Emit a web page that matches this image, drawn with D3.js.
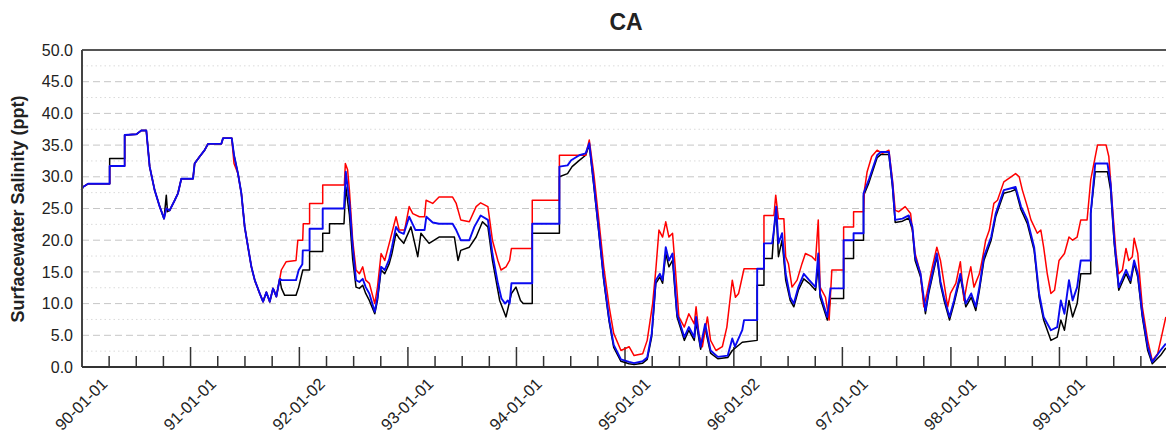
<!DOCTYPE html>
<html><head><meta charset="utf-8">
<script src="https://cdn.jsdelivr.net/npm/d3@7"></script>
<style>
body{margin:0;background:#fff}
svg{display:block}
text{font-family:"Liberation Sans",Arial,sans-serif;fill:#222}
</style>
</head><body>
<svg id="chart" width="1166" height="440"></svg>
<script>
// ---------- data ----------
const chartTitle = "CA";
const yAxisTitle = "Surfacewater Salinity (ppt)";
const yTickValues = [0, 5, 10, 15, 20, 25, 30, 35, 40, 45, 50];
const xTickLabels = ["90-01-01","91-01-01","92-01-02","93-01-01","94-01-01","95-01-01","96-01-02","97-01-01","98-01-01","99-01-01"];
const startDate = "1990-01-01";
const endDate = "2000-01-01";

// [months since 1990-01-01, salinity ppt]
const blackSeries = [[0,27.9],[0.17,28.4],[0.72,28.9],[3.11,28.9],[3.11,32.9],[4.77,32.9],[4.77,36.6],[6.06,36.7],[6.61,37.3],[7.16,37.3],[7.53,31.6],[8.08,27.9],[8.64,25.3],[9.12,23.4],[9.37,27.1],[9.5,24.5],[9.74,24.7],[10.3,26.3],[10.66,27.4],[11.03,29.7],[12.32,29.7],[12.5,32.1],[13.06,33.2],[13.6,34.2],[13.98,35.2],[15.45,35.2],[15.64,36.1],[16.6,36.1],[16.85,33.4],[17.29,30.5],[17.66,27.4],[18.03,22.1],[18.4,18.9],[18.77,15.8],[19.14,13.7],[19.69,11.6],[20.06,10.3],[20.42,11.8],[20.8,10.3],[21.16,12.4],[21.53,11.1],[21.9,13.9],[22.1,12.4],[22.45,11.3],[23.7,11.3],[24.0,12.6],[24.45,15.3],[25.2,15.3],[25.2,18.2],[26.65,18.2],[26.65,21.1],[27.4,21.1],[27.4,22.6],[29.0,22.6],[29.2,28.4],[29.6,24],[29.96,17],[30.33,12.6],[30.7,12.4],[31.07,12.9],[31.4,11.6],[31.8,10.5],[32.4,8.4],[32.7,10.5],[33.1,15.3],[33.5,14.7],[34.0,16.3],[34.3,17.9],[34.75,21.1],[35.1,20.3],[35.6,19.5],[36.4,22.1],[37.15,17.4],[37.5,21.1],[38.4,19.5],[39.5,20.5],[41.2,20.5],[41.6,16.8],[41.9,18.4],[42.85,18.9],[43.6,20.5],[44.3,22.9],[44.9,22.1],[45.4,16.8],[46.2,10.5],[46.9,7.9],[47.5,11.6],[48.0,12.6],[48.5,10.5],[48.8,10],[49.8,10],[49.8,21.1],[52.8,21.1],[52.8,30],[53.7,30.5],[54.2,31.6],[55.0,32.6],[55.7,33.4],[56.1,35],[56.6,28.6],[57.2,20.6],[57.7,13.6],[58.3,7.1],[58.8,3.1],[59.6,0.9],[60.5,0.5],[61.05,0.4],[62.0,0.6],[62.5,1.2],[63.0,4.8],[63.45,13.2],[63.9,14.2],[64.2,13.2],[64.55,17.9],[64.9,15.8],[65.3,16.8],[65.8,7.9],[66.6,4.2],[67.1,5.8],[67.7,4.2],[67.9,7.1],[68.4,2.8],[68.9,6.1],[69.5,2.2],[70.3,1.3],[71.4,1.5],[71.9,2.6],[73.0,3.9],[74.65,4.2],[74.65,12.9],[75.4,12.9],[75.4,17.1],[76.3,17.1],[76.5,21.6],[76.75,24.7],[77.0,17.4],[77.4,20],[77.8,13.7],[78.3,10.5],[78.7,9.5],[79.2,12.1],[79.8,13.9],[80.4,13.2],[81.1,12.1],[81.4,16],[81.6,11],[82.4,7.4],[82.75,10.8],[84.2,10.8],[84.2,17.1],[85.3,17.1],[85.3,20.0],[86.4,20.0],[86.4,27.0],[86.98,29.0],[87.9,33.0],[88.3,33.5],[89.2,33.5],[89.6,28.4],[89.9,22.8],[90.7,23.0],[91.4,23.5],[91.8,21.6],[92.1,16.8],[92.7,14.2],[93.24,8.4],[93.6,11.6],[94.0,14.2],[94.5,17.4],[94.9,13.0],[95.3,10.5],[95.9,7.4],[96.4,10.0],[97.1,14.2],[97.7,9.5],[98.3,11.0],[98.8,8.9],[99.2,12.1],[99.7,16.8],[100.5,20.0],[101.0,23.7],[101.9,27.4],[102.7,27.7],[103.2,28.0],[103.8,24.8],[104.5,22.6],[105.25,18.4],[105.8,11],[106.3,7.4],[107.1,4.2],[107.8,4.7],[108.2,7.4],[108.6,5.8],[109.1,10.5],[109.5,7.9],[110.0,10.0],[110.4,14.7],[111.5,14.7],[111.5,24.2],[112.0,30.8],[113.35,30.8],[113.7,27.9],[114.1,19.5],[114.6,12.1],[115.4,14.7],[115.9,13.2],[116.3,16.3],[116.7,14.2],[117.2,7.9],[117.8,2.6],[118.3,0.5],[119.2,1.8],[119.8,3.0]];

const redSeries = [[0,27.9],[0.17,28.4],[0.72,28.9],[3.11,28.9],[3.11,31.7],[4.77,31.7],[4.77,36.6],[6.06,36.7],[6.61,37.3],[7.16,37.3],[7.53,31.6],[8.08,27.9],[8.64,25.3],[9.12,23.4],[9.37,25.0],[9.74,24.7],[10.3,26.3],[10.66,27.4],[11.03,29.7],[12.32,29.7],[12.5,32.1],[13.06,33.2],[13.6,34.2],[13.98,35.2],[15.45,35.2],[15.64,36.1],[16.6,36.1],[16.85,32.1],[17.29,30.5],[17.66,27.4],[18.03,22.1],[18.4,18.9],[18.77,15.8],[19.14,13.7],[19.69,11.6],[20.06,10.3],[20.42,11.8],[20.8,10.3],[21.16,12.4],[21.53,11.1],[21.9,13.9],[22.08,15.3],[22.6,16.6],[23.7,16.8],[23.9,20],[24.44,20],[24.5,22.6],[25.2,22.6],[25.2,25.8],[26.65,25.8],[26.65,28.7],[29.04,28.7],[29.15,32.1],[29.4,31.1],[29.6,27.9],[29.96,20],[30.33,15.3],[30.7,14.7],[31.07,15.8],[31.4,13.7],[31.8,13.2],[32.4,10],[32.7,12.6],[33.1,17.9],[33.5,16.8],[34.0,19.5],[34.75,23.7],[35.1,21.6],[35.7,21.6],[36.2,25.3],[36.6,24.2],[37.33,23.7],[37.9,23.7],[38.07,26.3],[38.8,25.8],[39.5,26.8],[41.0,26.8],[41.4,25.8],[41.9,23.2],[42.85,22.9],[43.6,25.3],[44.1,25.9],[44.9,25.3],[45.4,20],[46.0,16.8],[46.35,15.3],[46.9,15.8],[47.3,16.8],[47.5,18.7],[49.8,18.7],[49.8,26.3],[52.8,26.3],[52.8,33.4],[55.7,33.4],[56.1,35.8],[56.6,30.5],[57.2,22.6],[57.7,15.8],[58.3,9.5],[58.8,5.3],[59.6,2.6],[60.5,3.2],[61.05,1.8],[62.0,2.1],[62.5,4.2],[63.1,10],[63.45,15.3],[63.8,21.6],[64.2,20.5],[64.55,22.9],[64.9,20.5],[65.3,21.1],[65.65,14.7],[66.0,7.9],[66.6,6.3],[67.1,8.4],[67.7,6.8],[67.9,9.5],[68.2,5.3],[68.6,3.2],[69.15,7.9],[69.5,4.2],[70.1,2.6],[70.8,3.2],[71.3,6.3],[71.9,13.7],[72.25,11],[72.6,11.6],[73.2,15.5],[75.4,15.5],[75.4,23.9],[76.5,23.9],[76.7,27.1],[77.0,23.4],[77.6,23.4],[77.8,17.4],[78.1,16.3],[78.5,12.6],[79.06,13.7],[79.6,16.3],[79.98,17.9],[80.7,17.4],[81.1,16.8],[81.4,23.2],[81.6,12.6],[82.2,11],[82.6,7.4],[82.9,15.3],[84.2,15.3],[84.2,22.1],[85.3,22.1],[85.3,24.5],[86.4,24.5],[86.5,27.9],[86.8,30.8],[87.3,33.2],[87.9,34.2],[88.5,33.7],[89.2,34.2],[89.6,29.5],[89.9,24.7],[90.3,24.5],[91.0,25.3],[91.6,24.2],[92.1,17.9],[92.7,14.7],[93.06,9.5],[93.4,11.6],[94.0,15.8],[94.5,18.9],[94.9,16.8],[95.3,13.2],[95.7,9.5],[96.0,11.6],[96.6,13.2],[97.1,16.6],[97.5,10.5],[97.9,13.7],[98.25,15.8],[98.6,12.6],[99.2,14.7],[99.5,16.8],[99.9,20],[100.3,21.6],[100.8,25.8],[101.2,26.3],[101.9,29.2],[102.7,30],[103.2,30.5],[103.6,30],[103.95,27.9],[104.5,25.3],[104.9,23.2],[105.6,21.1],[105.99,21.6],[106.3,18.9],[106.7,14.7],[107.1,11.6],[107.5,12.1],[108.0,16.8],[108.6,17.9],[109.1,20.5],[109.5,20],[110.0,20.5],[110.4,23.2],[111.1,23.2],[111.5,29.5],[112.25,35],[113.2,35],[113.5,33.2],[113.9,25.3],[114.3,17.9],[114.6,14.7],[115.0,15.3],[115.4,18.7],[115.7,16.8],[116.1,17.4],[116.3,20.3],[116.7,17.9],[117.2,9.5],[117.8,4.2],[118.3,1.0],[118.9,2.1],[119.4,5.3],[119.8,7.9]];

const blueSeries = [[0,27.9],[0.17,28.4],[0.72,28.9],[3.11,28.9],[3.11,31.7],[4.77,31.7],[4.77,36.6],[6.06,36.7],[6.61,37.3],[7.16,37.3],[7.53,31.6],[8.08,27.9],[8.64,25.3],[9.12,23.4],[9.37,25.0],[9.74,24.7],[10.3,26.3],[10.66,27.4],[11.03,29.7],[12.32,29.7],[12.5,32.1],[13.06,33.2],[13.6,34.2],[13.98,35.2],[15.45,35.2],[15.64,36.1],[16.6,36.1],[16.85,33.4],[17.29,30.5],[17.66,27.4],[18.03,22.1],[18.4,18.9],[18.77,15.8],[19.14,13.7],[19.69,11.6],[20.06,10.3],[20.42,11.8],[20.8,10.3],[21.16,12.4],[21.53,11.1],[21.9,13.9],[22.1,13.7],[23.7,13.7],[24.0,15.3],[24.4,16.2],[24.45,18.4],[25.2,18.4],[25.2,21.8],[26.65,21.8],[26.65,25],[29.0,25],[29.2,30.8],[29.6,26],[29.96,19],[30.33,13.7],[30.7,13.4],[31.07,13.9],[31.4,12.6],[31.8,11.6],[32.4,8.7],[32.7,11.0],[33.1,15.8],[33.5,15.3],[34.0,17.0],[34.3,18.9],[34.75,22.1],[35.1,21.3],[35.6,21.0],[36.2,23.7],[36.6,22.5],[36.9,21.6],[37.9,21.6],[38.1,23.7],[38.8,22.8],[39.5,22.6],[41.0,22.6],[41.4,21.6],[41.9,20.0],[42.85,20.0],[43.4,22.1],[44.1,23.9],[44.9,23.2],[45.4,17.9],[46.0,13.2],[46.4,10.8],[46.8,10.0],[47.1,10.5],[47.3,10.0],[47.5,13.2],[49.8,13.2],[49.8,22.6],[52.8,22.6],[52.8,31.6],[53.7,31.8],[54.1,32.6],[55.0,33.4],[55.7,33.7],[56.1,35.3],[56.6,29],[57.2,21],[57.7,14],[58.3,7.5],[58.8,3.5],[59.6,1.2],[60.5,0.8],[61.05,0.6],[62.0,0.9],[62.5,1.5],[63.0,5.3],[63.45,13.7],[63.9,14.7],[64.2,13.7],[64.55,18.9],[64.9,16.8],[65.3,17.9],[65.8,8.4],[66.6,4.7],[67.1,6.3],[67.7,4.7],[67.9,7.9],[68.4,3.2],[68.9,6.8],[69.5,2.6],[70.3,1.6],[71.4,1.8],[71.9,4.5],[72.2,3.2],[73.0,5.8],[73.2,7.4],[74.65,7.4],[74.65,15.5],[75.4,15.5],[75.4,19.5],[76.3,19.5],[76.5,21.6],[76.75,25.3],[77.0,19.5],[77.4,21.1],[77.8,14.7],[78.3,11],[78.7,10],[79.2,12.6],[79.8,14.7],[80.4,13.7],[81.1,12.6],[81.4,17.9],[81.6,11.6],[82.4,7.9],[82.75,12.4],[84.2,12.4],[84.2,20.0],[85.3,20.0],[85.3,21.1],[86.4,21.1],[86.4,27.4],[86.98,29.5],[87.9,33.4],[88.3,33.9],[89.2,33.9],[89.6,28.9],[89.9,23.2],[90.7,23.4],[91.4,23.9],[91.8,22.1],[92.1,17.4],[92.7,14.7],[93.24,8.9],[93.6,12.1],[94.0,14.7],[94.5,17.9],[94.9,13.5],[95.3,11],[95.9,7.9],[96.4,10.5],[97.1,14.7],[97.7,10],[98.3,11.6],[98.8,9.5],[99.2,12.6],[99.7,17.4],[100.5,20.5],[101.0,24.2],[101.9,27.9],[102.7,28.2],[103.2,28.4],[103.8,25.3],[104.5,23.2],[105.25,18.9],[105.8,11.6],[106.3,7.9],[107.1,5.8],[107.8,6.3],[108.2,10.5],[108.6,8.4],[109.1,13.7],[109.5,10.5],[110.0,12.6],[110.4,16.8],[111.5,16.8],[111.5,24.2],[112.0,32.1],[113.35,32.1],[113.7,28.9],[114.1,20],[114.6,12.6],[115.4,15.3],[115.9,13.7],[116.3,16.8],[116.7,14.7],[117.2,8.4],[117.8,3.2],[118.3,0.8],[119.2,2.6],[119.8,3.7]];

const seriesColors = {black: "#000000", red: "#ff0000", blue: "#0a0af0"};

// ---------- layout ----------
const W = 1166, H = 440;
const plot = {left: 82, right: 1166, top: 50, bottom: 367};

const svg = d3.select("#chart");
svg.append("rect").attr("width", W).attr("height", H).attr("fill", "#fff");

const parseISO = d3.timeParse("%Y-%m-%d");
const parseTick = d3.timeParse("%y-%m-%d");
const t0 = parseISO(startDate), t1 = parseISO(endDate);
const x = d3.scaleTime().domain([t0, t1]).range([81.5, 1167.5]);
const y = d3.scaleLinear().domain([0, 50]).range([plot.bottom, plot.top]);
const monthMs = 30.4375 * 864e5;
const toDate = m => new Date(t0.getTime() + m * monthMs);

// gridlines every 2.5
const gridVals = d3.range(2.5, 50, 2.5);
svg.append("g").selectAll("line").data(gridVals).join("line")
  .attr("x1", plot.left).attr("x2", plot.right)
  .attr("y1", d => y(d)).attr("y2", d => y(d))
  .attr("stroke", d => d % 5 === 0 ? "#c6c6c6" : "#dadada")
  .attr("stroke-width", 1)
  .attr("stroke-dasharray", d => d % 5 === 0 ? "7,4" : "1.5,3");

// ticks (major + quarterly minor)
const majorDates = xTickLabels.map(parseTick);
const minorDates = [];
majorDates.forEach((d, i) => {
  const next = i < majorDates.length - 1 ? majorDates[i + 1] : null;
  const span = next ? next - d : d - majorDates[i - 1];
  for (let k = 1; k < 4; k++) minorDates.push(new Date(d.getTime() + span * k / 4));
});

const xAxisMinor = d3.axisBottom(x).tickValues(minorDates).tickSize(-11).tickFormat("");
const gMinor = svg.append("g").attr("transform", `translate(0,${plot.bottom})`).call(xAxisMinor);
gMinor.select(".domain").remove();
gMinor.selectAll("line").attr("stroke", "#333").attr("stroke-width", 1.5);

const xAxis = d3.axisBottom(x).tickValues(majorDates).tickSize(-20)
  .tickFormat((d, i) => xTickLabels[i]);
const gx = svg.append("g").attr("transform", `translate(0,${plot.bottom})`).call(xAxis);
gx.select(".domain").remove();
gx.selectAll("line").attr("stroke", "#333").attr("stroke-width", 1.5);
gx.selectAll("text")
  .attr("y", 0).attr("dy", 0)
  .attr("text-anchor", "middle")
  .attr("dominant-baseline", "central")
  .attr("transform", "translate(-1,37) rotate(-45)")
  .style("font-size", "16.5px").style("fill", "#222");

// y axis labels
const yAxis = d3.axisLeft(y).tickValues(yTickValues).tickFormat(d3.format(".1f")).tickSize(0).tickPadding(9);
const gy = svg.append("g").attr("transform", `translate(${plot.left},0)`).call(yAxis);
gy.select(".domain").remove();
gy.selectAll("text").style("font-size", "16px").style("fill", "#222");

// series lines
const line = d3.line().x(d => x(toDate(d[0]))).y(d => y(d[1]));
[[blackSeries, seriesColors.black, 1.5], [redSeries, seriesColors.red, 1.5], [blueSeries, seriesColors.blue, 1.9]]
  .forEach(([data, color, w]) => {
    svg.append("path").datum(data)
      .attr("d", line)
      .attr("fill", "none")
      .attr("stroke", color)
      .attr("stroke-width", w)
      .attr("stroke-linejoin", "round");
  });

// frame
svg.append("line").attr("x1", plot.left).attr("x2", plot.right).attr("y1", plot.top).attr("y2", plot.top)
  .attr("stroke", "#555").attr("stroke-width", 2);
svg.append("line").attr("x1", plot.left).attr("x2", plot.left).attr("y1", plot.top).attr("y2", plot.bottom)
  .attr("stroke", "#444").attr("stroke-width", 2);
svg.append("line").attr("x1", plot.left).attr("x2", plot.right).attr("y1", plot.bottom).attr("y2", plot.bottom)
  .attr("stroke", "#333").attr("stroke-width", 2);

// titles
svg.append("text").attr("x", 626).attr("y", 30).attr("text-anchor", "middle")
  .style("font-size", "23px").style("font-weight", "bold").text(chartTitle);
svg.append("text").attr("transform", "translate(24,209) rotate(-90)").attr("text-anchor", "middle")
  .style("font-size", "18px").style("font-weight", "bold").text(yAxisTitle);
</script>
</body></html>
